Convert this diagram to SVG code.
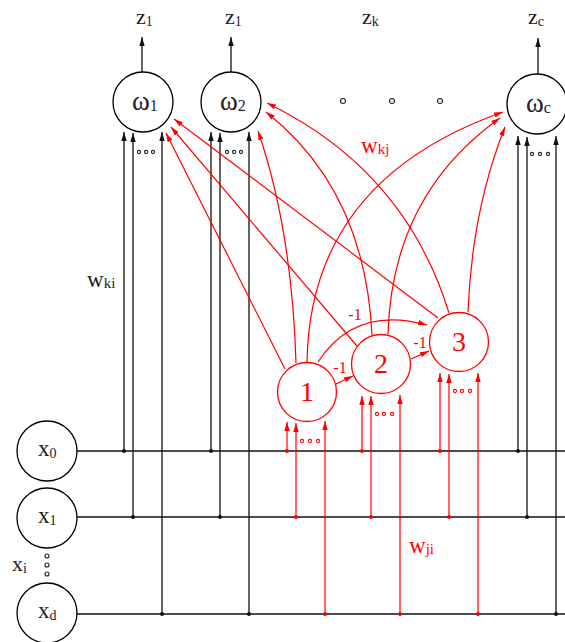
<svg xmlns="http://www.w3.org/2000/svg" width="565" height="642" viewBox="0 0 565 642">
<style>
.nb{fill:#fff;stroke:#000;stroke-width:1.3}
.nr{fill:#fff;stroke:#f00;stroke-width:1.3}
.t{font-family:"Liberation Serif",serif;fill:#222}
.tr{font-family:"Liberation Serif",serif;fill:#f00}
.bl{stroke:#111;stroke-width:1.3;fill:none}
.rl{stroke:#f00;stroke-width:1.2;fill:none}
.bd{fill:#111}
.rd{fill:#f00}
.hd{fill:#fff;stroke:#222;stroke-width:1.1}
.hr{fill:#fff;stroke:#f00;stroke-width:1.1}
</style>
<defs>
<marker id="ab" viewBox="0 0 10 6" refX="10" refY="3" markerWidth="9" markerHeight="5.4" markerUnits="userSpaceOnUse" orient="auto"><path d="M0,0 L10,3 L0,6 z" fill="#111"/></marker>
<marker id="ar" viewBox="0 0 10 6" refX="10" refY="3" markerWidth="9" markerHeight="5.4" markerUnits="userSpaceOnUse" orient="auto"><path d="M0,0 L10,3 L0,6 z" fill="#f00"/></marker>
</defs>
<rect width="565" height="642" fill="#fff"/>

<g id="connectors">
<line class="bl" x1="77" y1="451" x2="565" y2="451"/>
<line class="bl" x1="77" y1="517" x2="565" y2="517"/>
<line class="bl" x1="77" y1="614" x2="565" y2="614"/>
<line class="bl" x1="142" y1="72" x2="142" y2="37" marker-end="url(#ab)"/>
<line class="bl" x1="231" y1="72" x2="231" y2="37" marker-end="url(#ab)"/>
<line class="bl" x1="538" y1="74" x2="538" y2="38" marker-end="url(#ab)"/>
<line class="bl" x1="124" y1="451" x2="124" y2="132" marker-end="url(#ab)"/>
<line class="bl" x1="133" y1="517" x2="133" y2="133" marker-end="url(#ab)"/>
<line class="bl" x1="162" y1="614" x2="162" y2="132" marker-end="url(#ab)"/>
<line class="bl" x1="211" y1="451" x2="211" y2="132" marker-end="url(#ab)"/>
<line class="bl" x1="220" y1="517" x2="220" y2="133" marker-end="url(#ab)"/>
<line class="bl" x1="249" y1="614" x2="249" y2="132" marker-end="url(#ab)"/>
<line class="bl" x1="518" y1="451" x2="518" y2="136" marker-end="url(#ab)"/>
<line class="bl" x1="527" y1="517" x2="527" y2="137" marker-end="url(#ab)"/>
<line class="bl" x1="556" y1="614" x2="556" y2="136" marker-end="url(#ab)"/>
<circle class="bd" cx="124" cy="451" r="2"/>
<circle class="bd" cx="133" cy="517" r="2"/>
<circle class="bd" cx="162" cy="614" r="2"/>
<circle class="bd" cx="211" cy="451" r="2"/>
<circle class="bd" cx="220" cy="517" r="2"/>
<circle class="bd" cx="249" cy="614" r="2"/>
<circle class="bd" cx="518" cy="451" r="2"/>
<circle class="bd" cx="527" cy="517" r="2"/>
<circle class="bd" cx="556" cy="614" r="2"/>
<line class="rl" x1="287" y1="451" x2="287" y2="422" marker-end="url(#ar)"/>
<line class="rl" x1="296" y1="517" x2="296" y2="423" marker-end="url(#ar)"/>
<line class="rl" x1="325" y1="614" x2="325" y2="421" marker-end="url(#ar)"/>
<line class="rl" x1="362" y1="451" x2="362" y2="396" marker-end="url(#ar)"/>
<line class="rl" x1="371" y1="517" x2="371" y2="396" marker-end="url(#ar)"/>
<line class="rl" x1="400" y1="614" x2="400" y2="395" marker-end="url(#ar)"/>
<line class="rl" x1="440" y1="451" x2="440" y2="373" marker-end="url(#ar)"/>
<line class="rl" x1="449" y1="517" x2="449" y2="374" marker-end="url(#ar)"/>
<line class="rl" x1="478" y1="614" x2="478" y2="373" marker-end="url(#ar)"/>
<circle class="rd" cx="287" cy="451" r="2"/>
<circle class="rd" cx="296" cy="517" r="2"/>
<circle class="rd" cx="325" cy="614" r="2"/>
<circle class="rd" cx="362" cy="451" r="2"/>
<circle class="rd" cx="371" cy="517" r="2"/>
<circle class="rd" cx="400" cy="614" r="2"/>
<circle class="rd" cx="440" cy="451" r="2"/>
<circle class="rd" cx="449" cy="517" r="2"/>
<circle class="rd" cx="478" cy="614" r="2"/>
<line class="rl" x1="285" y1="369" x2="166" y2="133" marker-end="url(#ar)"/>
<line class="rl" x1="357" y1="346" x2="171" y2="127" marker-end="url(#ar)"/>
<line class="rl" x1="438" y1="318" x2="174" y2="119" marker-end="url(#ar)"/>
<path class="rl" d="M296,363 Q292,230 258,131" marker-end="url(#ar)"/>
<path class="rl" d="M372,335 Q365,190 266,112" marker-end="url(#ar)"/>
<path class="rl" d="M449,313 Q405,170 267,103" marker-end="url(#ar)"/>
<path class="rl" d="M307,362 Q310,180 503,112" marker-end="url(#ar)"/>
<path class="rl" d="M388,334 Q392,195 500,118" marker-end="url(#ar)"/>
<path class="rl" d="M468,312 Q472,210 505,127" marker-end="url(#ar)"/>
<line class="rl" x1="336" y1="384" x2="353" y2="376" marker-end="url(#ar)"/>
<line class="rl" x1="411" y1="359" x2="429" y2="351" marker-end="url(#ar)"/>
<path class="rl" d="M318,362 Q355,305 427,325" marker-end="url(#ar)"/>
</g>

<g id="dots">
<circle class="hd" cx="343" cy="101" r="2.5"/>
<circle class="hd" cx="392" cy="101" r="2.5"/>
<circle class="hd" cx="440" cy="101" r="2.5"/>
<circle class="hd" cx="139" cy="152" r="1.6"/>
<circle class="hd" cx="146" cy="152" r="1.6"/>
<circle class="hd" cx="153" cy="152" r="1.6"/>
<circle class="hd" cx="227" cy="152" r="1.6"/>
<circle class="hd" cx="234" cy="152" r="1.6"/>
<circle class="hd" cx="241" cy="152" r="1.6"/>
<circle class="hd" cx="532" cy="154" r="1.6"/>
<circle class="hd" cx="540" cy="154" r="1.6"/>
<circle class="hd" cx="548" cy="154" r="1.6"/>
<circle class="hd" cx="47" cy="556" r="2"/>
<circle class="hd" cx="47" cy="565" r="2"/>
<circle class="hd" cx="47" cy="574" r="2"/>
<circle class="hr" cx="302" cy="441" r="1.6"/>
<circle class="hr" cx="310" cy="441" r="1.6"/>
<circle class="hr" cx="318" cy="441" r="1.6"/>
<circle class="hr" cx="377" cy="414" r="1.6"/>
<circle class="hr" cx="384" cy="414" r="1.6"/>
<circle class="hr" cx="392" cy="414" r="1.6"/>
<circle class="hr" cx="455" cy="391" r="1.6"/>
<circle class="hr" cx="462" cy="391" r="1.6"/>
<circle class="hr" cx="470" cy="391" r="1.6"/>
</g>

<g id="labels">
<text class="t" x="136" y="24" font-size="22">z<tspan font-size="14" dy="2">1</tspan></text>
<text class="t" x="225" y="24" font-size="22">z<tspan font-size="14" dy="2">1</tspan></text>
<text class="t" x="362" y="24" font-size="22">z<tspan font-size="14" dy="2">k</tspan></text>
<text class="t" x="528" y="24" font-size="22">z<tspan font-size="14" dy="2">c</tspan></text>
<text class="t" x="87" y="287" font-size="23">w<tspan font-size="15" dy="1">ki</tspan></text>
<text class="tr" x="361" y="153" font-size="23">w<tspan font-size="15" dy="1">kj</tspan></text>
<text class="tr" x="409" y="553" font-size="23">w<tspan font-size="15" dy="1">ji</tspan></text>
<text class="t" x="12" y="571" font-size="22">x<tspan font-size="14" dy="2">i</tspan></text>
<text class="tr" x="340" y="373" font-size="16" text-anchor="middle">-1</text>
<text class="tr" x="420" y="348" font-size="16" text-anchor="middle">-1</text>
<text class="tr" x="355" y="320" font-size="16" text-anchor="middle">-1</text>
</g>

<g id="omega1"><circle class="nb" cx="143" cy="102" r="30"/><text class="t" x="132" y="110" font-size="27">ω<tspan font-size="16" dy="1">1</tspan></text></g>
<g id="omega2"><circle class="nb" cx="231" cy="102" r="30"/><text class="t" x="220" y="110" font-size="27">ω<tspan font-size="16" dy="1">2</tspan></text></g>
<g id="omegac"><circle class="nb" cx="537" cy="104" r="30"/><text class="t" x="526" y="112" font-size="27">ω<tspan font-size="16" dy="1">c</tspan></text></g>

<g id="hidden1"><circle class="nr" cx="307" cy="392" r="29.5"/><text class="tr" x="307" y="401" font-size="28" text-anchor="middle">1</text></g>
<g id="hidden2"><circle class="nr" cx="381" cy="364" r="29.5"/><text class="tr" x="381" y="373" font-size="28" text-anchor="middle">2</text></g>
<g id="hidden3"><circle class="nr" cx="459" cy="342" r="29.5"/><text class="tr" x="459" y="351" font-size="28" text-anchor="middle">3</text></g>

<g id="x0"><circle class="nb" cx="47" cy="451" r="30"/><text class="t" x="38" y="456" font-size="23">x<tspan font-size="14" dy="2">0</tspan></text></g>
<g id="x1"><circle class="nb" cx="47" cy="518" r="30"/><text class="t" x="38" y="523" font-size="23">x<tspan font-size="14" dy="2">1</tspan></text></g>
<g id="xd"><circle class="nb" cx="47" cy="613" r="30"/><text class="t" x="38" y="618" font-size="23">x<tspan font-size="14" dy="2">d</tspan></text></g>
</svg>
